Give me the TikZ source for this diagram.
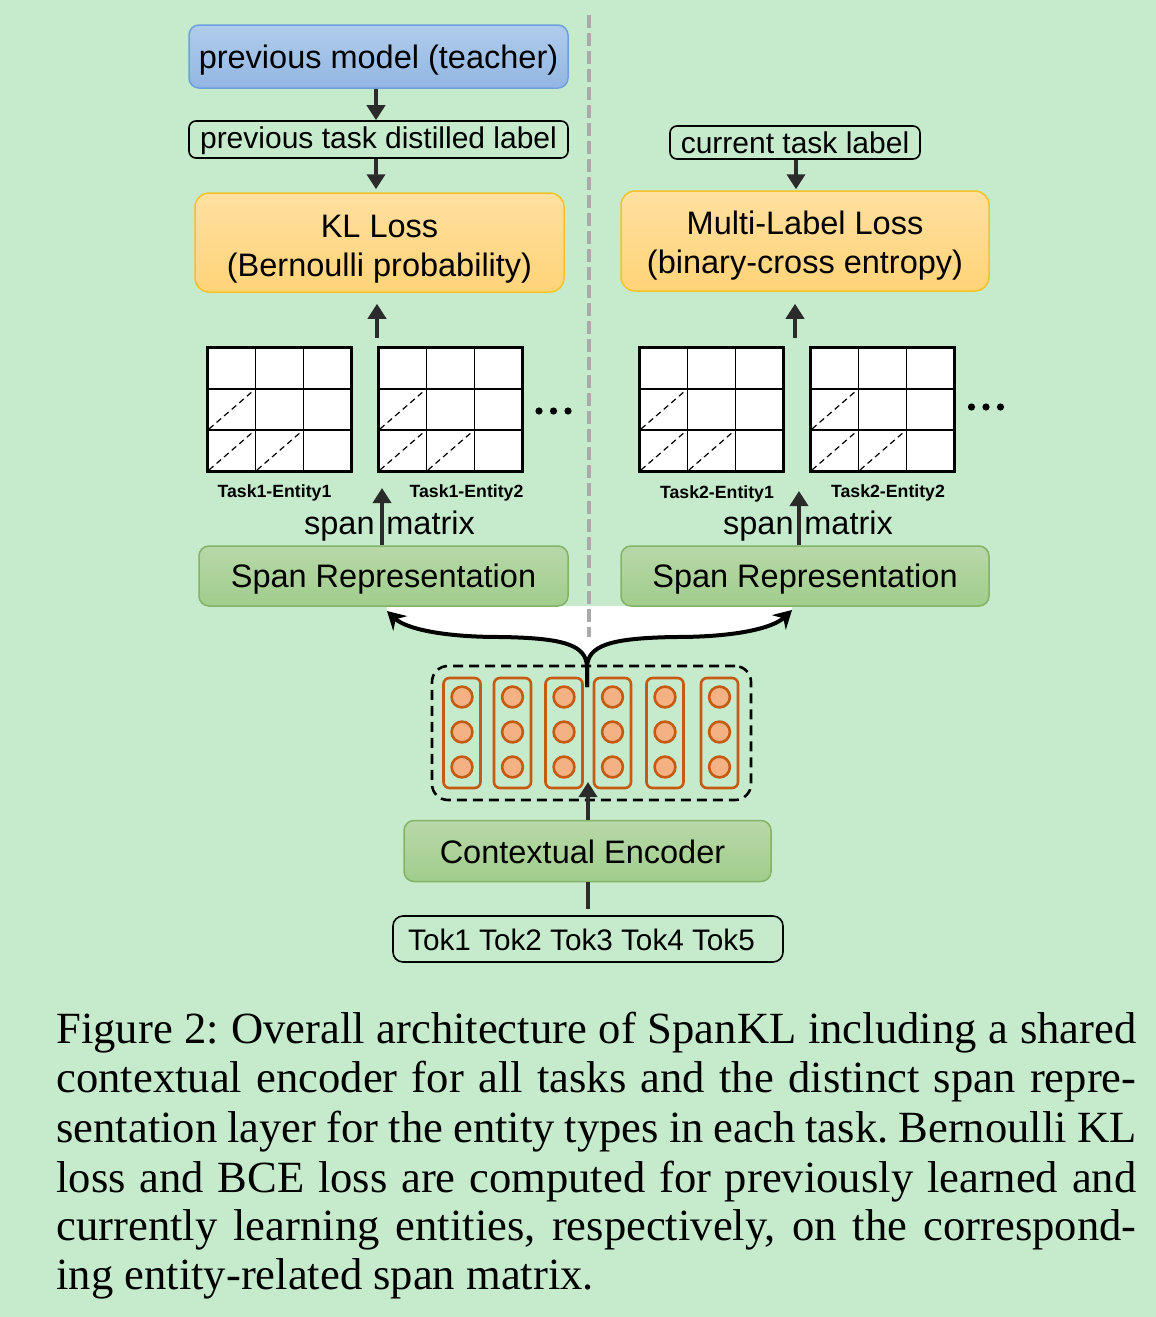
\documentclass[tikz,border=0pt]{standalone}
\usepackage{fontspec}
\setmainfont{Liberation Serif}
\newfontfamily\arialf{Liberation Sans}
\usetikzlibrary{arrows.meta}
\definecolor{bg}{RGB}{198,235,204}
\definecolor{arrc}{RGB}{43,43,43}
\definecolor{bluetop}{RGB}{176,204,236}
\definecolor{bluebot}{RGB}{146,182,226}
\definecolor{bluedr}{RGB}{108,160,220}
\definecolor{ortop}{RGB}{255,224,160}
\definecolor{orbot}{RGB}{255,211,120}
\definecolor{ordr}{RGB}{245,195,40}
\definecolor{grtop}{RGB}{184,216,168}
\definecolor{grbot}{RGB}{160,205,140}
\definecolor{grdr}{RGB}{130,179,102}
\definecolor{tokdr}{RGB}{197,90,17}
\definecolor{tokfill}{RGB}{244,177,131}
\definecolor{sepc}{RGB}{170,170,170}
\newcommand\fBig{\arialf\fontsize{16.25pt}{19.5pt}\selectfont}
\newcommand\fMid{\arialf\fontsize{15pt}{18pt}\selectfont}
\newcommand\fTok{\arialf\fontsize{14.85pt}{17pt}\selectfont}
\newcommand\fLab{\arialf\bfseries\fontsize{8.85pt}{10pt}\selectfont}
\newcommand\fCap{\frenchspacing\fontsize{22.3pt}{26pt}\selectfont}
\newcommand\spanmat[2]{%
  \begin{scope}[shift={(#1,#2)}]
    \fill[white] (0,0) rectangle (144,124);
    \draw[line width=0.9pt] (48,0)--(48,124) (96,0)--(96,124) (0,41.3)--(144,41.3) (0,82.7)--(144,82.7);
    \draw[diagdash] (1.5,81.5)--(46,43) (1.5,122.5)--(46,84) (49.5,122.5)--(94,84);
    \draw[line width=1.6pt] (0,0) rectangle (144,124);
  \end{scope}}
\tikzset{
  box/.style={rectangle, inner sep=0pt, align=center, font=\fBig, text=black},
  bl/.style={text height=#1, text depth=0pt},
  bluebox/.style={box, rounded corners=5pt, draw=bluedr, line width=0.75pt, top color=bluetop, bottom color=bluebot},
  orbox/.style={box, rounded corners=7pt, draw=ordr, line width=0.75pt, top color=ortop, bottom color=orbot},
  grbox/.style={box, rounded corners=5pt, draw=grdr, line width=0.75pt, top color=grtop, bottom color=grbot},
  plainbox/.style={box, rounded corners=3.5pt, draw=black, line width=0.8pt, font=\fMid},
  arr/.style={draw=arrc, line width=2.2pt, -{Triangle[width=9pt,length=7.5pt]}},
  bracearr/.style={draw=black, line width=2pt, -{Stealth[width=10pt,length=9pt,inset=3pt]}},
  diagdash/.style={line width=0.6pt, dash pattern=on 3pt off 2pt},
  sepline/.style={draw=sepc, line width=2pt, dash pattern=on 6.5pt off 2.5pt},
  vecbox/.style={rectangle, draw=black, line width=1.3pt, dash pattern=on 5pt off 3pt, rounded corners=8pt, inner sep=0pt},
  tokcol/.style={draw=tokdr, line width=1.3pt, rounded corners=3pt},
  tokdot/.style={draw=tokdr, fill=tokfill, line width=1.3pt},
  lab/.style={font=\fLab, inner sep=0pt},
  smtext/.style={font=\fBig, inner sep=0pt},
  capline/.style={font=\fCap, inner sep=0pt, anchor=base west}
}
\begin{document}
\begin{tikzpicture}[x=0.5pt,y=-0.5pt]
\useasboundingbox (0,0) rectangle (1156,1317);
\fill[bg] (0,0) rectangle (1156,1317);

% white region behind the brace arrows
\fill[white] (387,606) -- (387,611) .. controls (405,628) and (440,637) .. (500,637) .. controls (565,638) and (587,645) .. (587,668) .. controls (587,645) and (611,638) .. (676,637) .. controls (736,637) and (773,628) .. (792,610) -- (792,606) -- cycle;

% separator
\coordinate (sepTop) at (588.5,15);
\coordinate (sepBot) at (588.5,637);
\draw[sepline] (sepTop) -- (sepBot);

% top boxes
\node[bluebox, bl=11.5pt, minimum width=189.5pt, minimum height=31.5pt] (teacher) at (378.5,56.5) {previous model (teacher)};
\node[plainbox, bl=8.5pt, minimum width=189.5pt, minimum height=18.5pt] (distilled) at (378.5,139.5) {previous task distilled label};
\node[orbox, minimum width=184.5pt, minimum height=49.5pt] (kl) at (379.5,242.5) {\rule{0pt}{17.6pt}KL Loss\\(Bernoulli probability)};
\node[plainbox, bl=10.8pt, minimum width=125pt, minimum height=16.5pt] (current) at (795,142.5) {current task label};
\node[orbox, minimum width=184pt, minimum height=50pt] (ml) at (805,241) {\rule{0pt}{15.9pt}Multi-Label Loss\\(binary-cross entropy)};

\coordinate (xa) at (376,0);
\coordinate (xb) at (796,0);
\draw[arr] (teacher.south -| xa) -- (distilled.north -| xa);
\draw[arr, shorten >=1.5pt] (distilled.south -| xa) -- (kl.north -| xa);
\draw[arr, shorten >=0.5pt] (current.south -| xb) -- (ml.north -| xb);

\coordinate (u1) at (377,338);
\coordinate (u2) at (795,338);
\draw[arr, shorten >=5.5pt] (u1) -- (kl.south -| u1);
\draw[arr, shorten >=6pt] (u2) -- (ml.south -| u2);

% span matrices
\spanmat{207.5}{347.5}
\spanmat{378.5}{347.5}
\spanmat{639.5}{347.5}
\spanmat{810.5}{347.5}
\foreach \dx in {539,553.5,568} \fill (\dx,411) circle[radius=1.8pt];
\foreach \dx in {971.5,986,1000.5} \fill (\dx,407) circle[radius=1.8pt];

\node[lab] (l1) at (274.5,493) {Task1-Entity1};
\node[lab] (l2) at (466.5,493) {Task1-Entity2};
\node[lab] (l3) at (717,494) {Task2-Entity1};
\node[lab] (l4) at (888,493) {Task2-Entity2};

% span representation
\node[grbox, bl=11pt, minimum width=184.5pt, minimum height=30pt] (spanL) at (383.5,576) {Span Representation};
\node[grbox, bl=11pt, minimum width=184pt, minimum height=30pt] (spanR) at (805,576) {Span Representation};

\node[smtext, anchor=base east] (sp1) at (375,534) {span};
\node[smtext, anchor=base west] (mx1) at (386,534) {matrix};
\node[smtext, anchor=base east] (sp2) at (794,534) {span};
\node[smtext, anchor=base west] (mx2) at (804,534) {matrix};

\coordinate (s1) at (382,488);
\coordinate (s2) at (799,491);
\draw[arr] (spanL.north -| s1) -- (s1);
\draw[arr] (spanR.north -| s2) -- (s2);

% token vectors
\node[vecbox, minimum width=159.5pt, minimum height=67pt] (vec) at (591.5,733) {};
\foreach \cx in {462,512.5,564,612.5,665,719.5} {
  \draw[tokcol] (\cx-18.5,678) rectangle (\cx+18.5,788);
  \foreach \cy in {697,732,767} \draw[tokdot] (\cx,\cy) circle[radius=5.2pt];
}

% brace arrows
\coordinate (stem) at (587,687);
\coordinate (tipL) at (387,611);
\coordinate (tipR) at (792,610);
\draw[bracearr] (stem) -- (587,668) .. controls (587,645) and (565,638) .. (500,637) .. controls (440,637) and (405,628) .. (tipL);
\draw[bracearr] (stem) -- (587,668) .. controls (587,645) and (611,638) .. (676,637) .. controls (736,637) and (773,628) .. (tipR);

% encoder and tokens
\node[grbox, bl=12.3pt, minimum width=183.5pt, minimum height=30.5pt] (enc) at (587.5,851) {Contextual Encoder\hspace{5pt}};
\node[plainbox, bl=11pt, rounded corners=5pt, font=\fTok, minimum width=195pt, minimum height=23pt] (tok) at (588,939) {Tok1 Tok2 Tok3 Tok4 Tok5\hspace{6.5pt}};
\coordinate (xe) at (588,0);
\coordinate (encTip) at (588,782);
\draw[arr] (enc.north -| xe) -- (encTip);
\draw[draw=arrc, line width=2.2pt, shorten >=3pt] (enc.south -| xe) -- (tok.north -| xe);

% caption
\node[capline] (c1) at (56,1043) {\makebox[540pt][s]{Figure 2: Overall architecture of SpanKL including a shared}};
\node[capline] (c2) at (56,1092) {\makebox[540pt][s]{contextual encoder for all tasks and the distinct span repre-}};
\node[capline] (c3) at (56,1142) {\makebox[540pt][s]{sentation layer for the entity types in each task. Bernoulli KL}};
\node[capline] (c4) at (56,1192) {\makebox[540pt][s]{loss and BCE loss are computed for previously learned and}};
\node[capline] (c5) at (56,1240) {\makebox[540pt][s]{currently learning entities, respectively, on the correspond-}};
\node[capline] (c6) at (56,1289) {ing entity-related span matrix.};
\end{tikzpicture}
\end{document}
